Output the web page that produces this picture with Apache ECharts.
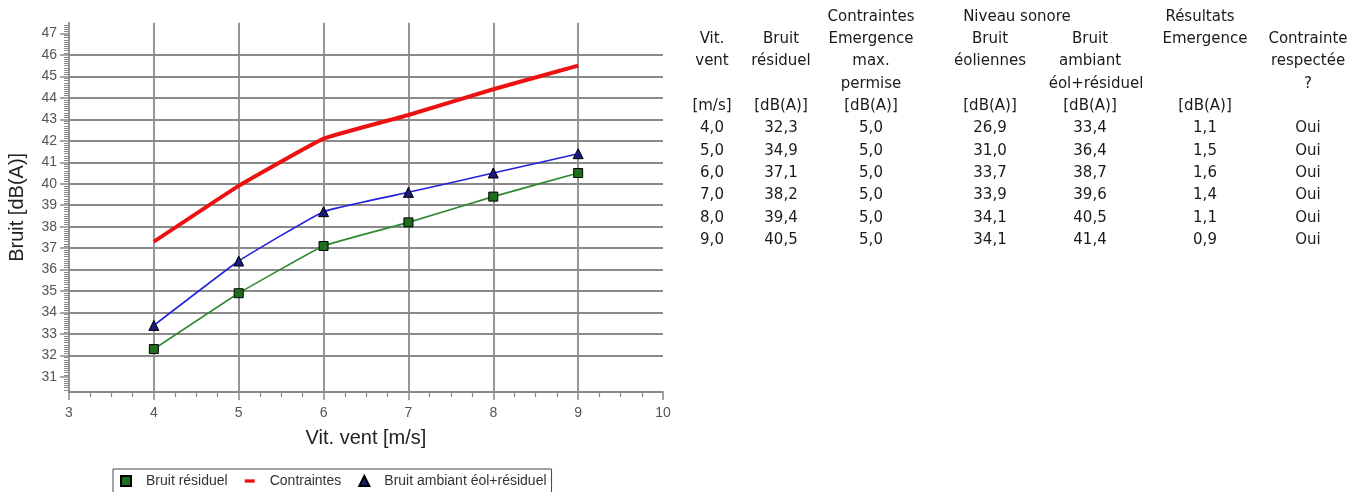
<!DOCTYPE html>
<html>
<head>
<meta charset="utf-8">
<script src="https://cdn.jsdelivr.net/npm/echarts@6/dist/echarts.min.js"></script>
<style>
  html, body { margin: 0; padding: 0; background: #ffffff; }
  #chart { width: 1353px; height: 492px; }
</style>
</head>
<body>
<div id="chart"></div>
<script>
// Wind speed classes and noise levels per class
const vitVent = [4, 5, 6, 7, 8, 9];
const bruitResiduel = [32.3, 34.9, 37.1, 38.2, 39.4, 40.5];
const emergenceMax = [5.0, 5.0, 5.0, 5.0, 5.0, 5.0];
const contraintes = [37.3, 39.9, 42.1, 43.2, 44.4, 45.5];
const bruitEoliennes = [26.9, 31.0, 33.7, 33.9, 34.1, 34.1];
const bruitAmbiant = [33.4, 36.4, 38.7, 39.6, 40.5, 41.4];
const emergence = [1.1, 1.5, 1.6, 1.4, 1.1, 0.9];
const contrainteRespectee = ['Oui', 'Oui', 'Oui', 'Oui', 'Oui', 'Oui'];

// Axis tick values
const yTicks = [31, 32, 33, 34, 35, 36, 37, 38, 39, 40, 41, 42, 43, 44, 45, 46, 47];
const xTicks = [3, 4, 5, 6, 7, 8, 9, 10];

// Table headings
const groupHeaders = ['Contraintes', 'Niveau sonore', 'Résultats'];
const columnHeaders = [
  ['Vit.', 'vent', '', '[m/s]'],
  ['Bruit', 'résiduel', '', '[dB(A)]'],
  ['Emergence', 'max.', 'permise', '[dB(A)]'],
  ['Bruit', 'éoliennes', '', '[dB(A)]'],
  ['Bruit', 'ambiant', 'éol+résiduel', '[dB(A)]'],
  ['Emergence', '', '', '[dB(A)]'],
  ['Contrainte', 'respectée', '?', '']
];
const tableColumns = [vitVent, bruitResiduel, emergenceMax, bruitEoliennes, bruitAmbiant, emergence, contrainteRespectee];

// ---- table layout ----
const TABLE_FONT = '15px "DejaVu Sans"';
const TABLE_COLOR = '#1a1a1a';
const colX = [712, 781, 871, 990, 1090, 1205, 1308];
const groupX = [871, 1017, 1200];
const lineStep = 22.3;
const groupY = 17;
const headerY0 = groupY + lineStep;
const rowY0 = groupY + 5 * lineStep;

function fmt(v) {
  return typeof v === 'number' ? v.toFixed(1).replace('.', ',') : v;
}
function cell(text, x, y) {
  return {
    type: 'text', x: x, y: y, silent: true,
    style: { text: text, font: TABLE_FONT, fill: TABLE_COLOR, align: 'center', verticalAlign: 'middle' }
  };
}

const tableGraphics = [];
groupHeaders.forEach((t, i) => tableGraphics.push(cell(t, groupX[i], groupY)));
columnHeaders.forEach((lines, c) => {
  lines.forEach((t, r) => {
    if (t) tableGraphics.push(cell(t, colX[c] + (t === 'éol+résiduel' ? 6 : 0), headerY0 + r * lineStep));
  });
});
tableColumns.forEach((col, c) => {
  col.forEach((v, r) => tableGraphics.push(cell(fmt(v), colX[c], rowY0 + r * lineStep)));
});

// ---- chart ----
const GRID_COLOR = '#8a8a8a';
const LABEL_FONT = 'Liberation Sans';
const toPairs = vals => vals.map((v, i) => [vitVent[i], v]);

const chart = echarts.init(document.getElementById('chart'), null, { renderer: 'canvas' });
chart.setOption({
  animation: false,
  backgroundColor: '#ffffff',
  grid: { left: 69, right: 690, top: 22.7, bottom: 100, containLabel: false },
  xAxis: {
    type: 'value', min: 3, max: 10, interval: 1,
    name: 'Vit. vent [m/s]', nameLocation: 'middle', nameGap: 36,
    nameTextStyle: { fontSize: 20, color: '#222', fontFamily: LABEL_FONT },
    axisLine: { show: true, lineStyle: { color: GRID_COLOR, width: 1.8 } },
    axisTick: { show: true, inside: false, length: 8, customValues: xTicks, lineStyle: { color: GRID_COLOR, width: 1.5 } },
    minorTick: { show: true, splitNumber: 4, length: 5, lineStyle: { color: GRID_COLOR, width: 1.2 } },
    axisLabel: { customValues: xTicks, margin: 14, fontSize: 14, color: '#555', fontFamily: LABEL_FONT },
    splitLine: { show: true, showMinLine: false, showMaxLine: false, lineStyle: { color: GRID_COLOR, width: 1.8 } }
  },
  yAxis: {
    type: 'value', min: 30.3, max: 47.5, splitNumber: 17, minInterval: 1, maxInterval: 1,
    name: 'Bruit [dB(A)]', nameLocation: 'middle', nameGap: 42,
    nameTextStyle: { fontSize: 20, color: '#222', fontFamily: LABEL_FONT },
    axisLine: { show: true, lineStyle: { color: GRID_COLOR, width: 1.8 } },
    axisTick: { show: true, inside: false, length: 9, customValues: yTicks, lineStyle: { color: GRID_COLOR, width: 1.5 } },
    minorTick: { show: true, splitNumber: 10, length: 5, lineStyle: { color: GRID_COLOR, width: 1 } },
    axisLabel: { customValues: yTicks, margin: 12, fontSize: 14, color: '#555', fontFamily: LABEL_FONT },
    splitLine: { show: true, showMinLine: false, showMaxLine: false, lineStyle: { color: GRID_COLOR, width: 1.8 } }
  },
  legend: {
    left: 113, top: 469, orient: 'horizontal',
    padding: [5, 5, 8, 7], itemGap: 17, itemWidth: 10, itemHeight: 10,
    symbolKeepAspect: true,
    borderColor: '#444', borderWidth: 1, backgroundColor: '#ffffff',
    textStyle: { fontSize: 14, color: '#333', fontFamily: LABEL_FONT, padding: [0, 0, 0, 10] },
    data: [
      { name: 'Bruit résiduel', icon: 'rect', lineStyle: { width: 0 } },
      { name: 'Contraintes', icon: 'path://M0,0L30,0L30,10L0,10Z', lineStyle: { width: 0 } },
      { name: 'Bruit ambiant éol+résiduel', icon: 'triangle', lineStyle: { width: 0 } }
    ]
  },
  series: [
    {
      name: 'Bruit résiduel', type: 'line', smooth: 0.1,
      data: toPairs(bruitResiduel),
      symbol: 'rect', symbolSize: 9,
      lineStyle: { color: '#2f8a2f', width: 1.6 },
      itemStyle: { color: '#1f6e1f', borderColor: '#000000', borderWidth: 1 },
      z: 3
    },
    {
      name: 'Contraintes', type: 'line', smooth: 0.1,
      data: toPairs(contraintes),
      symbol: 'none',
      lineStyle: { color: '#ee1111', width: 4 },
      itemStyle: { color: '#ee1111' },
      z: 2
    },
    {
      name: 'Bruit ambiant éol+résiduel', type: 'line', smooth: 0.1,
      data: toPairs(bruitAmbiant),
      symbol: 'triangle', symbolSize: 10,
      lineStyle: { color: '#2222dd', width: 1.6 },
      itemStyle: { color: '#1a1a7a', borderColor: '#000000', borderWidth: 1 },
      z: 4
    }
  ],
  graphic: tableGraphics
});
</script>
</body>
</html>
